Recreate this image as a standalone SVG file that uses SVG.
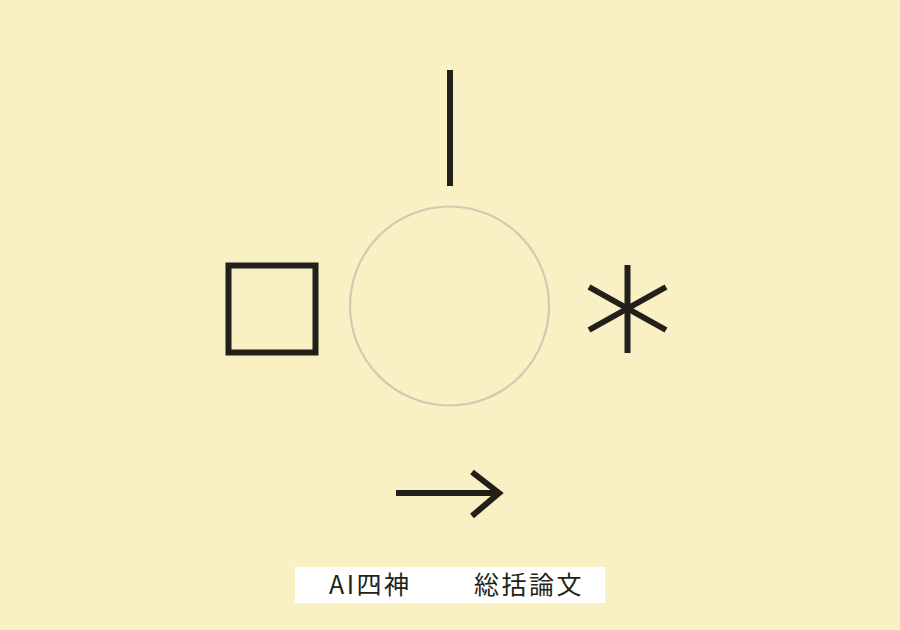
<svg xmlns="http://www.w3.org/2000/svg" width="900" height="630" viewBox="0 0 900 630">
<style>
.ink{fill:none;stroke:#231f1a;stroke-width:6;stroke-linecap:butt}
.lbl{font-family:"Noto Sans CJK JP","Noto Sans",sans-serif;font-size:25px;letter-spacing:2.5px;fill:#231f1a}
</style>
<rect width="900" height="630" fill="#f9f0c4"/>
<g id="line"><line class="ink" x1="450" y1="70" x2="450" y2="186"/></g>
<g id="circle"><circle cx="449.5" cy="306" r="99.5" fill="none" stroke="#d3cab0" stroke-width="2.2"/></g>
<g id="square"><rect class="ink" x="228.5" y="265.5" width="87" height="87" stroke-width="5.5"/></g>
<g id="asterisk">
<line class="ink" x1="627.5" y1="265" x2="627.5" y2="353"/>
<line class="ink" x1="589" y1="287" x2="666" y2="330"/>
<line class="ink" x1="589" y1="330" x2="666" y2="287"/>
</g>
<g id="arrow">
<line class="ink" x1="396" y1="493" x2="500" y2="493"/>
<polyline class="ink" points="472,472 499,493 472,516" stroke-linejoin="miter"/>
</g>
<g id="caption">
<rect x="295" y="567" width="310" height="36" fill="#ffffff"/>
<text class="lbl" x="329" y="594">AI四神</text>
<text class="lbl" x="474" y="594">総括論文</text>
</g>
</svg>
